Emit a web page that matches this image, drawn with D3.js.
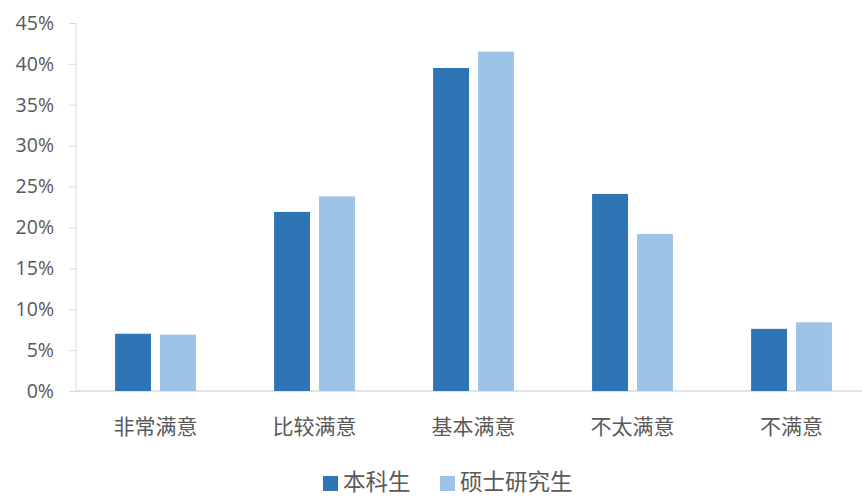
<!DOCTYPE html>
<html lang="zh">
<head>
    <meta charset="UTF-8">
    <title>满意度</title>
    <script type="text/javascript" src="https://cdn.jsdelivr.net/npm/d3@7/dist/d3.min.js"></script>
    <style type="text/css">
        body { margin: 0; background: #fff; }
        text { font-family: "Open Sans", "Noto Sans CJK SC", sans-serif; fill: #595959; }
    </style>
</head>
<body>
    <script type="text/javascript">
        //Data
        var categories = ["非常满意", "比较满意", "基本满意", "不太满意", "不满意"];
        var seriesNames = ["本科生", "硕士研究生"];
        var undergrad = [7.0, 21.9, 39.5, 24.1, 7.6];
        var master = [6.9, 23.8, 41.5, 19.2, 8.4];
        var yTicks = [0, 5, 10, 15, 20, 25, 30, 35, 40, 45];
        var colors = ["#2E75B6", "#9DC3E6"];

        //Width and height
        var w = 862;
        var h = 496;
        var margin = {top: 23, bottom: 105, left: 76};
        var plotRight = 871;   // plot area runs a little past the window edge

        var svg = d3.select("body")
            .append("svg")
            .attr("width", w)
            .attr("height", h);

        var xScale = d3.scaleBand()
            .domain(categories)
            .range([margin.left, plotRight]);

        var xInner = d3.scaleBand()
            .domain(seriesNames)
            .range([0, xScale.bandwidth()])
            .paddingInner(0.2)
            .paddingOuter(0.87);

        var yScale = d3.scaleLinear()
            .domain([0, 45])
            .range([h - margin.bottom, margin.top]);

        //Y axis
        var yAxis = svg.append("g")
            .attr("transform", "translate(" + margin.left + ",0)")
            .call(d3.axisLeft(yScale)
                .tickValues(yTicks)
                .tickSize(7)
                .tickPadding(15)
                .tickFormat(function(d) { return d + "%"; }));
        yAxis.selectAll("line, path").attr("stroke", "#d9d9d9");
        yAxis.select("path").attr("d", "M0," + yScale(45) + "V" + yScale(0));
        yAxis.selectAll("text")
            .attr("font-size", "19.5px")
            .style("fill", "#595959");

        //X axis line
        svg.append("line")
            .attr("x1", margin.left)
            .attr("x2", plotRight)
            .attr("y1", yScale(0))
            .attr("y2", yScale(0))
            .attr("stroke", "#d9d9d9")
            .attr("stroke-width", 1.5);

        //Category labels
        svg.selectAll("text.cat")
            .data(categories)
            .enter()
            .append("text")
            .attr("class", "cat")
            .attr("x", function(d) { return xScale(d) + xScale.bandwidth() / 2; })
            .attr("y", 434)
            .attr("text-anchor", "middle")
            .attr("font-size", "21px")
            .text(function(d) { return d; });

        //Bars
        var rows = categories.map(function(c, i) {
            return {cat: c, values: [undergrad[i], master[i]]};
        });

        var groups = svg.selectAll("g.grp")
            .data(rows)
            .enter()
            .append("g")
            .attr("class", "grp")
            .attr("transform", function(d) { return "translate(" + xScale(d.cat) + ",0)"; });

        groups.selectAll("rect")
            .data(function(d) {
                return d.values.map(function(v, j) { return {name: seriesNames[j], v: v, j: j}; });
            })
            .enter()
            .append("rect")
            .attr("x", function(d) { return xInner(d.name); })
            .attr("y", function(d) { return yScale(d.v); })
            .attr("width", xInner.bandwidth())
            .attr("height", function(d) { return yScale(0) - yScale(d.v); })
            .attr("fill", function(d) { return colors[d.j]; });

        //Legend
        var legendX = [323, 440];
        var legend = svg.selectAll("g.leg")
            .data(seriesNames)
            .enter()
            .append("g")
            .attr("class", "leg")
            .attr("transform", function(d, i) { return "translate(" + legendX[i] + ",476)"; });

        legend.append("rect")
            .attr("width", 15)
            .attr("height", 15)
            .attr("fill", function(d, i) { return colors[i]; });

        legend.append("text")
            .attr("x", 20)
            .attr("y", 14)
            .attr("font-size", "22.5px")
            .text(function(d) { return d; });
    </script>
</body>
</html>
